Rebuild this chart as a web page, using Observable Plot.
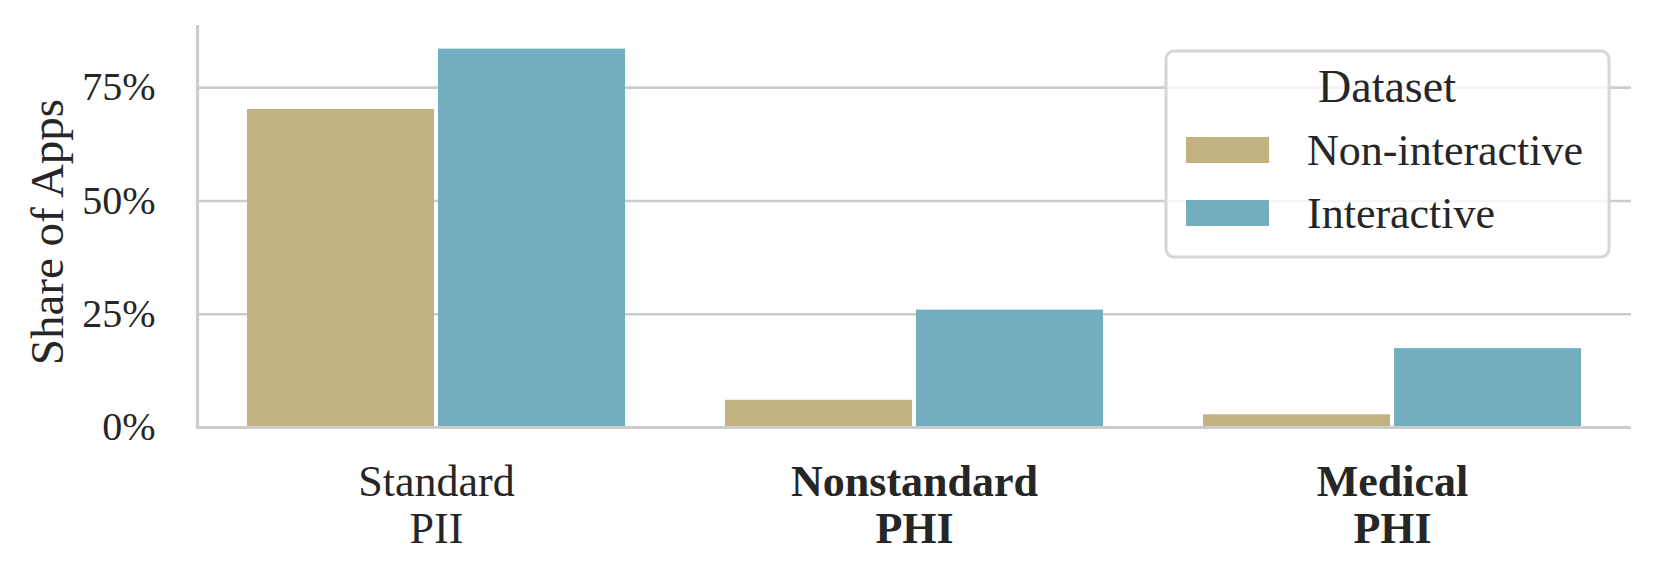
<!DOCTYPE html>
<html>
<head>
<meta charset="utf-8">
<script src="https://cdn.jsdelivr.net/npm/d3@7"></script>
<script src="https://cdn.jsdelivr.net/npm/@observablehq/plot@0.6"></script>
<style>
  html, body { margin: 0; padding: 0; background: #ffffff; }
  #chart svg { display: block; }
</style>
</head>
<body>
<div id="chart"></div>
<script>
// ---- data ----
const categories = ["Standard PII", "Nonstandard PHI", "Medical PHI"];
const categoryLabels = ["Standard\nPII", "Nonstandard\nPHI", "Medical\nPHI"];
const categoryBold = [false, true, true];
const datasets = ["Non-interactive", "Interactive"];
const nonInteractive = [70.2, 6.0, 2.8];   // % of apps
const interactive = [83.5, 25.9, 17.4];    // % of apps
const yTicks = [0, 25, 50, 75];
const colors = ["#c1b280", "#72aec0"];

const rows = [];
categories.forEach((c, i) => {
  rows.push({cat: c, dataset: datasets[0], value: nonInteractive[i]});
  rows.push({cat: c, dataset: datasets[1], value: interactive[i]});
});
const labelRows = categories.map((c, i) => ({cat: c, label: categoryLabels[i], bold: categoryBold[i]}));

const FONT = "'Liberation Serif', 'DejaVu Serif', serif";
const GRID = "#cccccc";
const INK = "#262626";

const plot = Plot.plot({
  width: 1659,
  height: 583,
  marginLeft: 196,
  marginRight: 28,
  marginTop: 26,
  marginBottom: 156,
  style: {fontFamily: FONT, fontSize: "44px", color: INK, background: "#ffffff", overflow: "visible"},
  fx: {domain: categories, padding: 0, axis: null},
  x: {domain: datasets, paddingInner: 0, paddingOuter: 0.25, axis: null},
  y: {domain: [0, 88.5], axis: null},
  color: {domain: datasets, range: colors},
  marks: [
    Plot.ruleY(yTicks.filter(d => d > 0), {stroke: GRID, strokeWidth: 2.6}),
    Plot.barY(rows, {fx: "cat", x: "dataset", y: "value", fill: "dataset", insetLeft: 2, insetRight: 2}),
    Plot.ruleY([0], {stroke: GRID, strokeWidth: 3.2}),
    Plot.frame({anchor: "left", facetAnchor: "left", stroke: GRID, strokeWidth: 3.2}),
    Plot.axisY({ticks: yTicks, tickSize: 0, tickPadding: 42, tickFormat: d => d + "%", label: null, fill: INK, fontSize: 40}),
    Plot.text(labelRows.filter(d => !d.bold), {fx: "cat", text: "label", frameAnchor: "bottom", lineAnchor: "top", dy: 35, lineHeight: 1.07, fill: INK, fontSize: 44}),
    Plot.text(labelRows.filter(d => d.bold), {fx: "cat", text: "label", frameAnchor: "bottom", lineAnchor: "top", dy: 35, lineHeight: 1.07, fill: INK, fontSize: 44, fontWeight: "bold"})
  ]
});

const svg = d3.select(plot);
// y-axis label
svg.append("text")
  .attr("transform", "translate(63,232) rotate(-90)")
  .attr("text-anchor", "middle")
  .attr("fill", INK)
  .style("font-family", FONT)
  .style("font-size", "47px")
  .text("Share of Apps");

// legend (inside plot, upper right)
const lg = svg.append("g").style("font-family", FONT).attr("fill", INK).attr("text-anchor", "start");
lg.append("rect")
  .attr("x", 1166).attr("y", 51).attr("width", 443).attr("height", 206)
  .attr("rx", 8).attr("ry", 8)
  .attr("fill", "#ffffff").attr("fill-opacity", 0.8)
  .attr("stroke", "#d6d6d6").attr("stroke-width", 3);
lg.append("text")
  .attr("x", 1387).attr("y", 102).attr("text-anchor", "middle")
  .style("font-size", "46px").text("Dataset");
datasets.forEach((d, i) => {
  const yb = 137 + i * 63;
  lg.append("rect").attr("x", 1186).attr("y", yb).attr("width", 83).attr("height", 26).attr("fill", colors[i]);
  lg.append("text").attr("x", 1307).attr("y", yb + 28).attr("text-anchor", "start").style("font-size", "44px").text(d);
});

document.getElementById("chart").appendChild(plot);
</script>
</body>
</html>
